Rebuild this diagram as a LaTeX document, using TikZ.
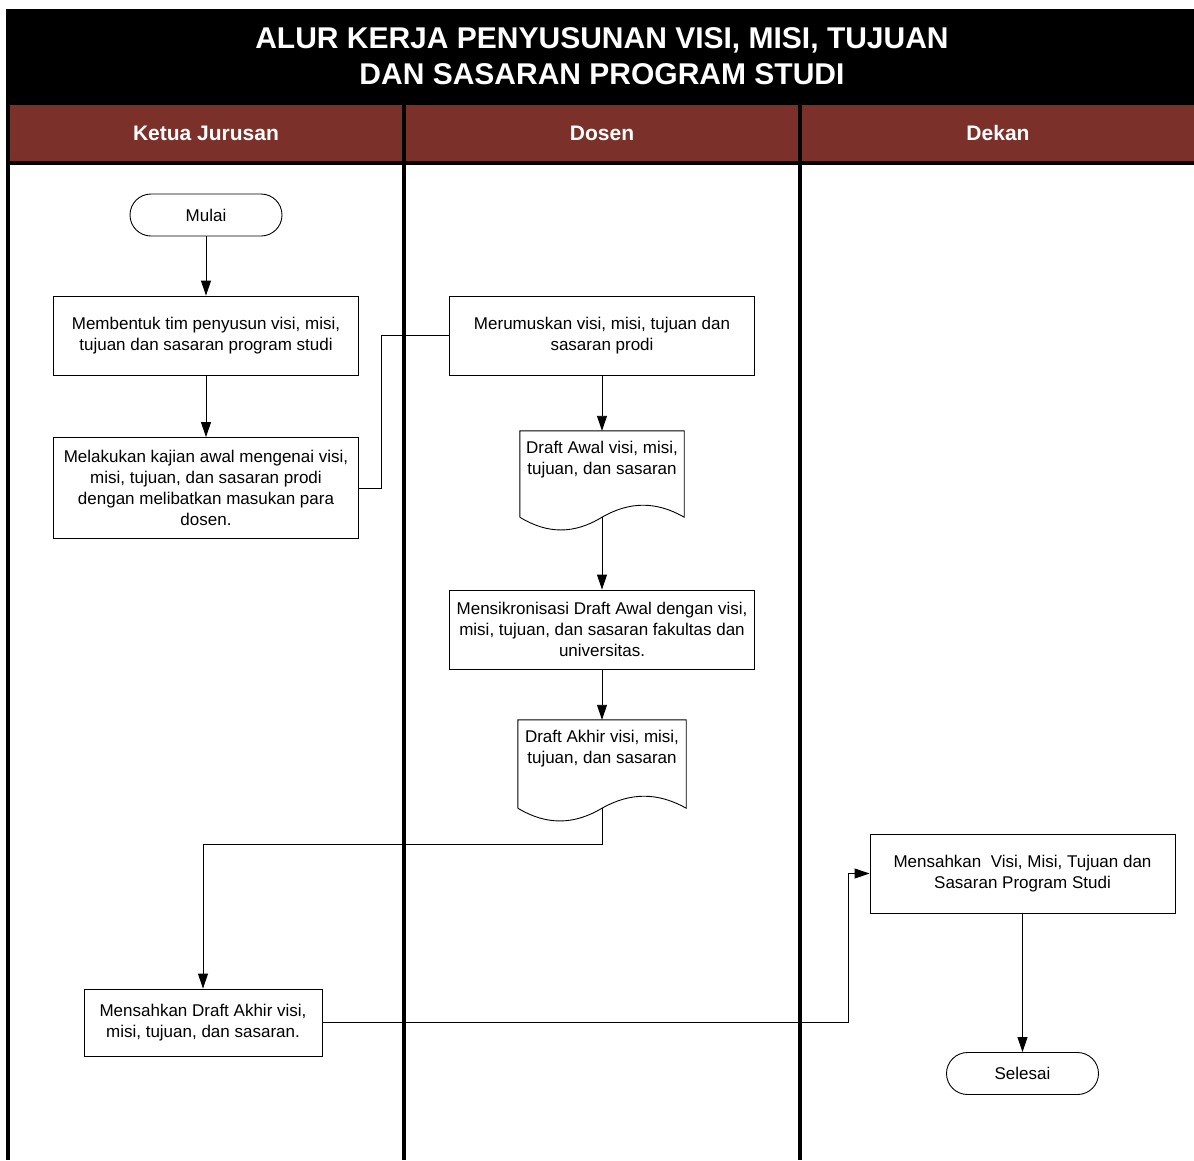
\documentclass[tikz,border=0pt]{standalone}
\usepackage{fontspec}
\setmainfont{Liberation Sans}
\usetikzlibrary{arrows.meta,calc,positioning}
\definecolor{lanehead}{RGB}{123,48,42}
\begin{document}
\begin{tikzpicture}[x=1pt,y=-1pt,
  every node/.style={font=\fontsize{17}{20.8}\selectfont},
  procbox/.style={draw, line width=0.9pt, rectangle, align=center, inner sep=0pt},
  termbox/.style={draw, line width=0.9pt, rectangle, rounded corners=21pt, minimum width=152pt, minimum height=42pt, inner sep=0pt},
  docbox/.style={rectangle, inner sep=0pt},
  doclabel/.style={anchor=north, align=center, inner sep=0pt, font=\fontsize{17}{20.8}\selectfont},
  flow/.style={line width=0.9pt, -{Triangle[length=15pt,width=10pt]}},
  link/.style={line width=0.9pt},
  laneline/.style={line width=4.5pt},
  headtxt/.style={text=white, font=\bfseries\fontsize{21}{25}\selectfont},
  titletxt/.style={text=white, align=center, font=\bfseries\fontsize{30}{36}\selectfont}
]
\useasboundingbox (0,0) rectangle (1194,1160);
\fill[white] (0,0) rectangle (1194,1160);
% title band
\fill[black] (6,9) rectangle (1194,105);
\fill[lanehead] (8,105) rectangle (1194,161);
\node[titletxt] (title) at (602,56) {ALUR KERJA PENYUSUNAN VISI, MISI, TUJUAN\\DAN SASARAN PROGRAM STUDI};
\node[headtxt] (h1) at (206,133) {Ketua Jurusan};
\node[headtxt] (h2) at (602,133) {Dosen};
\node[headtxt] (h3) at (998,133) {Dekan};
% lane lines
\draw[laneline] (8,103) -- (8,1160);
\draw[laneline] (404,103) -- (404,1160);
\draw[laneline] (800,103) -- (800,1160);
\draw[laneline] (6,163) -- (1194,163);

% nodes
\node[termbox] (mulai) at (206,215) {Mulai};
\node[procbox, minimum width=305pt, minimum height=79pt] (mb) at (206,335.5) {Membentuk tim penyusun visi, misi,\\tujuan dan sasaran program studi};
\node[procbox, minimum width=305pt, minimum height=101pt] (mk) at (206,488) {Melakukan kajian awal mengenai visi,\\misi, tujuan, dan sasaran prodi\\dengan melibatkan masukan para\\dosen.};
\node[procbox, minimum width=305pt, minimum height=79pt] (mr) at (602,335.5) {Merumuskan visi, misi, tujuan dan\\sasaran prodi};
\node[docbox, minimum width=164pt, minimum height=86pt] (da) at (602,474) {};
\node[doclabel] (dat) at ($(da.north)+(0,10)$) {Draft Awal visi, misi,\\tujuan, dan sasaran};
\node[procbox, minimum width=305pt, minimum height=79pt] (ms) at (602,629.5) {Mensikronisasi Draft Awal dengan visi,\\misi, tujuan, dan sasaran fakultas dan\\universitas.};
\node[docbox, minimum width=168pt, minimum height=88pt] (dk) at (602,764) {};
\node[doclabel] (dkt) at ($(dk.north)+(0,10)$) {Draft Akhir visi, misi,\\tujuan, dan sasaran};
\node[procbox, minimum width=238pt, minimum height=67pt] (md) at (203,1022.5) {Mensahkan Draft Akhir visi,\\misi, tujuan, dan sasaran.};
\node[procbox, minimum width=305pt, minimum height=79pt] (mv) at (1022.5,873.5) {Mensahkan\ \ Visi, Misi, Tujuan dan\\Sasaran Program Studi};
\node[termbox] (selesai) at (1022.5,1073.5) {Selesai};

% document outlines
\foreach \d/\w in {da/164,dk/168}{
  \draw[link] (\d.south west) -- (\d.north west) -- (\d.north east) -- (\d.south east)
    .. controls ($(\d.south east)+(-0.17*\w,-16)$) and ($(\d.south)+(0.17*\w,-16)$) .. (\d.south)
    .. controls ($(\d.south)+(-0.17*\w,17)$) and ($(\d.south west)+(0.17*\w,17)$) .. (\d.south west);
}

% coordinates for bends
\coordinate (b1) at (381,488);
\coordinate (b2) at (602,844);
\coordinate (b3) at (848,1022.5);

% connectors
\draw[flow] (mulai) -- (mb);
\draw[flow] (mb) -- (mk);
\draw[link] (mk.east) -- (b1) |- (mr.west);
\draw[flow] (mr) -- (da.north);
\draw[flow] (da.south) -- (ms.north);
\draw[flow] (ms) -- (dk.north);
\draw[flow] (dk.south) -- (b2) -| (md.north);
\draw[flow] (md.east) -- (b3) |- (mv.west);
\draw[flow] (mv) -- (selesai);
\end{tikzpicture}
\end{document}
